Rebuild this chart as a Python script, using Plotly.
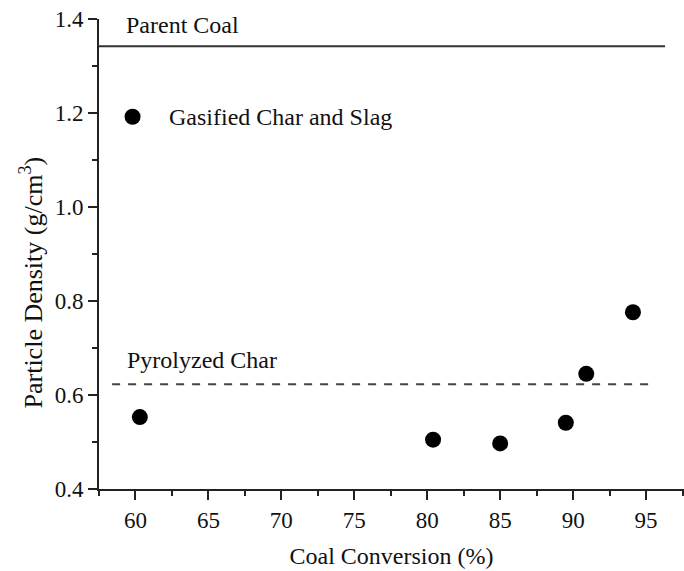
import plotly.graph_objects as go

# Measured particle density versus coal conversion
conversion = [60.3, 80.4, 85.0, 89.5, 90.9, 94.1]
density = [0.553, 0.505, 0.497, 0.541, 0.645, 0.776]

# Reference densities
parent_coal_density = 1.342
pyrolyzed_char_density = 0.623

x_ticks = [60, 65, 70, 75, 80, 85, 90, 95]
y_ticks = [0.4, 0.6, 0.8, 1.0, 1.2, 1.4]

FONT = "Liberation Serif, Times New Roman, serif"
INK = "#111111"

fig = go.Figure()

# Parent coal reference line (solid)
fig.add_trace(go.Scatter(
    x=[57.5, 96.3], y=[parent_coal_density] * 2, mode="lines",
    line=dict(color="#333333", width=2), showlegend=False, hoverinfo="skip",
))
# Pyrolyzed char reference line (dashed)
fig.add_trace(go.Scatter(
    x=[58.4, 95.3], y=[pyrolyzed_char_density] * 2, mode="lines",
    line=dict(color="#444444", width=2, dash="8px,8px"), showlegend=False, hoverinfo="skip",
))
# Gasified char and slag data
fig.add_trace(go.Scatter(
    x=conversion, y=density, mode="markers",
    marker=dict(color="black", size=16), showlegend=False,
))
# Key symbol
fig.add_trace(go.Scatter(
    x=[59.8], y=[1.192], mode="markers",
    marker=dict(color="black", size=16), showlegend=False, hoverinfo="skip",
))

fig.add_annotation(x=59.8, y=1.192, text="Gasified Char and Slag", showarrow=False,
                   xanchor="left", yanchor="middle", xshift=34,
                   font=dict(family=FONT, size=24, color=INK))
fig.add_annotation(x=59.2, y=1.388, text="Parent Coal", showarrow=False,
                   xanchor="left", yanchor="middle",
                   font=dict(family=FONT, size=24, color=INK))
fig.add_annotation(x=59.3, y=0.675, text="Pyrolyzed Char", showarrow=False,
                   xanchor="left", yanchor="middle",
                   font=dict(family=FONT, size=24, color=INK))
# Y-axis title, placed as a rotated label
fig.add_annotation(xref="paper", yref="paper", x=-0.099 * 684 / 585, y=0.44,
                   text="Particle Density (g/cm<sup>3</sup>)", textangle=-90,
                   showarrow=False, xanchor="center", yanchor="middle",
                   font=dict(family=FONT, size=26, color=INK))

axis_common = dict(
    showgrid=False, zeroline=False, showline=True, linecolor="#222222", linewidth=2,
    ticks="outside", ticklen=9, tickwidth=2, tickcolor="#222222",
    tickfont=dict(family=FONT, size=23, color=INK),
    minor=dict(ticks="outside", ticklen=5, tickwidth=2, tickcolor="#222222"),
)

fig.update_xaxes(
    range=[57.5, 97.6], tickvals=x_ticks, ticktext=[str(v) for v in x_ticks],
    title=dict(text="Coal Conversion (%)", font=dict(family=FONT, size=24, color=INK),
               standoff=16),
    **axis_common,
)
fig.update_yaxes(
    range=[0.4, 1.4], tickvals=y_ticks, ticktext=[f"{v:.1f}" for v in y_ticks],
    **axis_common,
)
fig.update_xaxes(minor=dict(dtick=2.5, tick0=57.5))
fig.update_yaxes(minor=dict(dtick=0.1, tick0=0.4))

fig.update_layout(
    width=684, height=571,
    margin=dict(l=99, r=0, t=19, b=82),
    plot_bgcolor="white", paper_bgcolor="white",
    showlegend=False,
)

fig.write_html("out.html")
